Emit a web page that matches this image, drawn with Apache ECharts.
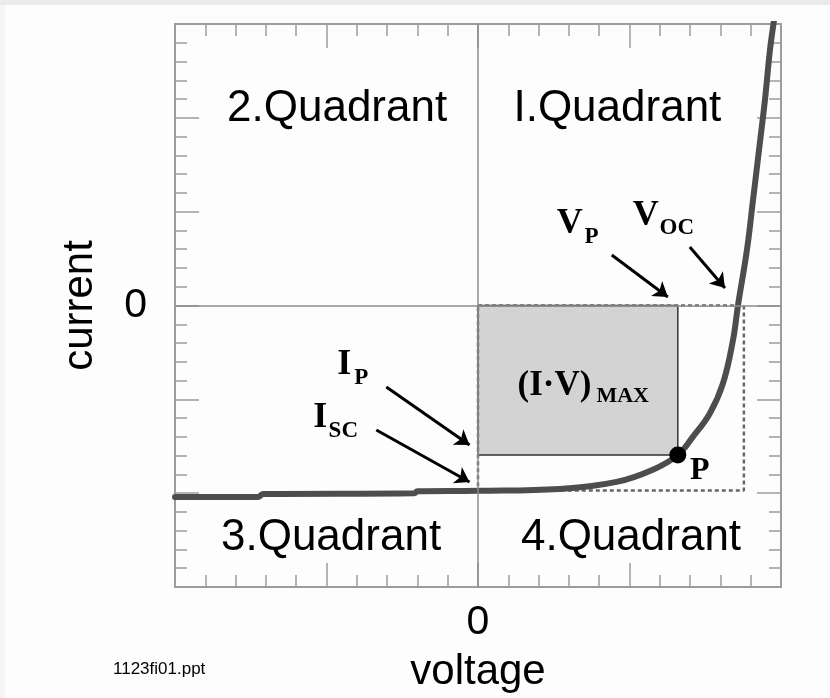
<!DOCTYPE html>
<html><head><meta charset="utf-8">
<script src="https://cdn.jsdelivr.net/npm/echarts@6/dist/echarts.min.js"></script>
<style>html,body{margin:0;padding:0;background:#fdfdfd;}#c{width:830px;height:698px;}</style>
</head><body><div id="c"></div>
<script>
// ---- data ----
const xRange = [-2, 2];
const yRange = [-3, 3];
const shownTickLabels = [0];           // only the 0 tick carries a label
const curveV = [-2.0, -1.45, -1.42, -0.42, -0.40, 0.0, 0.54, 0.915, 1.154, 1.319, 1.418, 1.53, 1.617, 1.683, 1.716, 1.775, 1.815, 1.855, 1.894, 1.927, 1.953];
const curveI = [-2.04, -2.04, -2.01, -2.00, -1.98, -1.975, -1.955, -1.88, -1.75, -1.593, -1.40, -1.15, -0.83, -0.37, 0.0, 0.59, 1.12, 1.66, 2.19, 2.72, 3.03];
const pointP = [1.319, -1.593];
const vOC = 1.755;
const iSC = -1.972;
const quadrantNames = ['2.Quadrant', 'I.Quadrant', '3.Quadrant', '4.Quadrant'];
const quadrantV = [-0.93, 0.92, -0.97, 1.01];
const quadrantI = [2.10, 2.10, -2.48, -2.48];
const symbolText = ['I', 'P', 'I', 'SC', 'V', 'P', 'V', 'OC', '(I·V)', 'MAX', 'P'];
const symbolRole = ['main', 'sub', 'main', 'sub', 'main', 'sub', 'main', 'sub', 'iv', 'ivsub', 'pt'];
const symbolV = [-0.883, -0.770, -1.041, -0.889, 0.605, 0.750, 1.107, 1.312, 0.505, 0.955, 1.464];
const symbolI = [-0.634, -0.773, -1.199, -1.338, 0.869, 0.730, 0.954, 0.826, -0.858, -0.964, -1.764];
const arrowFrom = [[-0.605, -0.869], [-0.671, -1.327], [0.883, 0.538], [1.398, 0.623]];
const arrowTo = [[-0.056, -1.487], [-0.056, -1.881], [1.253, 0.091], [1.630, 0.187]];

// ---- styles ----
const SANS = '"Liberation Sans", Arial, sans-serif';
const SERIF = '"Liberation Serif", "Times New Roman", serif';
const roleStyle = {
  main: {fontSize: 36}, sub: {fontSize: 23}, iv: {fontSize: 35}, ivsub: {fontSize: 22}, pt: {fontSize: 32}
};
const frameColor = '#9c9c9c';

function axisCommon(showLabel, extra) {
  return Object.assign({
    type: 'value',
    interval: 1,
    axisLine: {show: true, onZero: false, lineStyle: {color: frameColor, width: 2}},
    axisTick: {show: true, inside: true, length: 24, lineStyle: {color: frameColor, width: 1.5}},
    minorTick: {show: true, splitNumber: 5, length: 12, lineStyle: {color: frameColor, width: 1.5}},
    splitLine: {show: false},
    minorSplitLine: {show: false},
    axisLabel: {
      show: showLabel,
      formatter: v => shownTickLabels.indexOf(v) >= 0 ? String(v) : '',
      fontFamily: SANS, fontSize: 41, color: '#000'
    }
  }, extra);
}

const chart = echarts.init(document.getElementById('c'), null, {renderer: 'canvas'});
chart.setOption({
  animation: false,
  backgroundColor: '#fdfdfd',
  grid: {left: 175, top: 24, width: 606, height: 563},
  graphic: [
    {type: 'rect', left: 0, top: 0, shape: {width: 830, height: 5}, style: {fill: '#ebebeb'}, silent: true},
    {type: 'rect', left: 0, top: 5, shape: {width: 5, height: 693}, style: {fill: '#f5f5f5'}, silent: true},
    {type: 'text', left: 113, top: 661, style: {text: '1123fi01.ppt', fontFamily: SANS, fontSize: 17, fill: '#000'}}
  ],
  xAxis: [
    axisCommon(true, {min: xRange[0], max: xRange[1], position: 'bottom',
      axisLabel: Object.assign(axisCommon(true).axisLabel, {margin: 15}),
      name: 'voltage', nameLocation: 'middle', nameGap: 64,
      nameTextStyle: {fontFamily: SANS, fontSize: 42, color: '#000'}}),
    axisCommon(false, {min: xRange[0], max: xRange[1], position: 'top'})
  ],
  yAxis: [
    axisCommon(true, {min: yRange[0], max: yRange[1], position: 'left',
      axisLabel: Object.assign(axisCommon(true).axisLabel, {margin: 28}),
      name: 'current', nameLocation: 'middle', nameGap: 74,
      nameTextStyle: {fontFamily: SANS, fontSize: 42, color: '#000'}}),
    axisCommon(false, {min: yRange[0], max: yRange[1], position: 'right'})
  ],
  series: [
    { // dashed rectangle (0,0)-(Voc,Isc)
      type: 'line', z: 1, silent: true, symbol: 'none',
      data: [[0, 0], [vOC, 0], [vOC, iSC], [0, iSC], [0, 0]],
      lineStyle: {color: '#666', width: 2.5, type: [4, 3]}
    },
    { // max power rectangle + zero lines
      type: 'line', z: 2, silent: true, symbol: 'none', data: [],
      markArea: {
        silent: true,
        itemStyle: {color: '#d3d3d3', borderColor: '#333', borderWidth: 1.5},
        data: [[{coord: [0, 0]}, {coord: pointP}]]
      },
      markLine: {
        silent: true, symbol: 'none', label: {show: false},
        lineStyle: {color: '#8c8c8c', width: 1.5, type: 'solid'},
        data: [{xAxis: 0}, {yAxis: 0}]
      }
    },
    { // I-V curve
      type: 'line', z: 4, silent: true, symbol: 'none', smooth: 0.4,
      data: curveV.map((v, i) => [v, curveI[i]]),
      lineStyle: {color: '#4d4d4d', width: 6, cap: 'round'}
    },
    { // point P
      type: 'scatter', z: 5, silent: true, symbol: 'circle', symbolSize: 17,
      itemStyle: {color: '#000', opacity: 1}, data: [pointP]
    },
    { // arrows
      type: 'lines', coordinateSystem: 'cartesian2d', z: 5, silent: true,
      symbol: ['none', 'arrow'], symbolSize: 14,
      lineStyle: {color: '#000', width: 3, opacity: 1, curveness: 0},
      data: arrowFrom.map((f, i) => ({coords: [f, arrowTo[i]]}))
    },
    { // quadrant names
      type: 'scatter', z: 6, silent: true, symbolSize: 0,
      itemStyle: {opacity: 1},
      data: quadrantNames.map((n, i) => ({name: n, value: [quadrantV[i], quadrantI[i]]})),
      label: {show: true, position: 'inside', formatter: p => p.name,
        fontFamily: SANS, fontSize: 44, color: '#000'}
    },
    { // symbol labels
      type: 'scatter', z: 6, silent: true, symbolSize: 0,
      itemStyle: {opacity: 1},
      data: symbolText.map((t, i) => ({
        name: t, value: [symbolV[i], symbolI[i]],
        label: Object.assign({}, roleStyle[symbolRole[i]])
      })),
      label: {show: true, position: 'inside', formatter: p => p.name,
        fontFamily: SERIF, fontWeight: 'bold', color: '#000'}
    }
  ]
});
</script></body></html>
